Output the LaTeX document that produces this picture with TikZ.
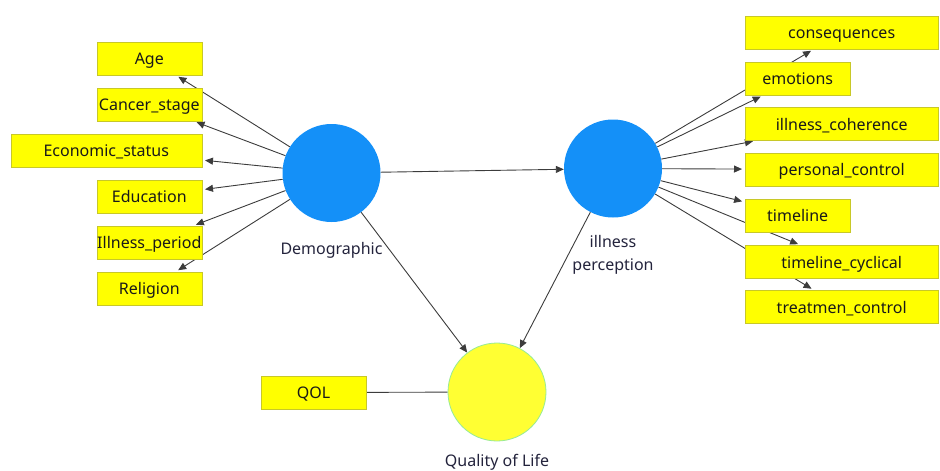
\documentclass[tikz,border=0pt]{standalone}
\usepackage{fontspec}
\setmainfont{Noto Sans}
\usetikzlibrary{positioning,arrows.meta,backgrounds}

\definecolor{boxfill}{RGB}{255,255,0}
\definecolor{boxline}{RGB}{200,200,40}
\definecolor{latblue}{RGB}{20,144,248}
\definecolor{qolfill}{RGB}{255,255,51}
\definecolor{qolline}{RGB}{150,235,150}
\definecolor{linegray}{RGB}{60,60,60}
\definecolor{lbltext}{RGB}{35,35,60}

\begin{document}
\begin{tikzpicture}[
  x=1pt, y=-1pt,
  ind/.style={draw=boxline, fill=boxfill, minimum height=33pt, inner sep=0pt,
    text height=12.5pt, text depth=0pt,
    font=\fontsize{16}{19}\selectfont, text=black!90},
  wide/.style={ind, minimum width=193pt},
  narrow/.style={ind, minimum width=105pt},
  lat/.style={circle, minimum size=98pt, inner sep=0pt},
  lbl/.style={font=\fontsize{16}{23}\selectfont, text=lbltext, align=center},
  link/.style={draw=linegray, line width=0.9pt, -{Triangle[length=8pt,width=7pt]}, shorten >=3pt}
]
  \useasboundingbox (0,0) rectangle (940,471);

  % latent variables
  \node[lat, fill=latblue] (demo) at (331.5,173) {};
  \node[lat, fill=latblue] (ip) at (613,168.5) {};
  \node[lat, fill=qolfill, draw=qolline, line width=0.8pt] (qol) at (497,392) {};
  \node[lbl, below=17pt of demo] {Demographic};
  \node[lbl, below=14pt of ip] {illness\\perception};
  \node[lbl, below=9pt of qol] {Quality of Life};

  % indicators of Demographic
  \node[narrow, anchor=east] (age) at (202,58.5) {Age};
  \node[narrow, anchor=east] (cancer) at (202,104.5) {Cancer\_stage};
  \node[ind, minimum width=191pt, anchor=east] (econ) at (202,150.5) {Economic\_status};
  \node[narrow, anchor=east] (edu) at (202,196.5) {Education};
  \node[narrow, anchor=east] (period) at (202,242.5) {Illness\_period};
  \node[narrow, anchor=east] (religion) at (202,288.5) {Religion};

  % indicators of illness perception
  \node[wide, anchor=west] (cons) at (745,32.5) {consequences};
  \node[narrow, anchor=west] (emo) at (745,78.5) {emotions};
  \node[wide, anchor=west] (coh) at (745,124) {illness\_coherence};
  \node[wide, anchor=west] (pers) at (745,169.5) {personal\_control};
  \node[narrow, anchor=west] (time) at (745,215.5) {timeline};
  \node[wide, anchor=west] (cycl) at (745,262) {timeline\_cyclical};
  \node[wide, anchor=west] (treat) at (745,307) {treatmen\_control};

  % indicator of Quality of Life
  \node[narrow] (qolbox) at (313.5,392.5) {QOL};

  \begin{scope}[on background layer]
    \foreach \b in {age,cancer,econ,edu,period,religion}
      \draw[link] (demo) -- (\b);
    \foreach \b in {cons,emo,coh,pers,time,cycl,treat}
      \draw[link] (ip) -- (\b);
    \draw[link, shorten >=0pt] (demo) -- (ip);
    \draw[link, shorten >=0pt] (demo) -- (qol);
    \draw[link, shorten >=0pt] (ip) -- (qol);
    \draw[draw=linegray, line width=0.9pt] (qolbox) -- (qol);
  \end{scope}
\end{tikzpicture}
\end{document}
